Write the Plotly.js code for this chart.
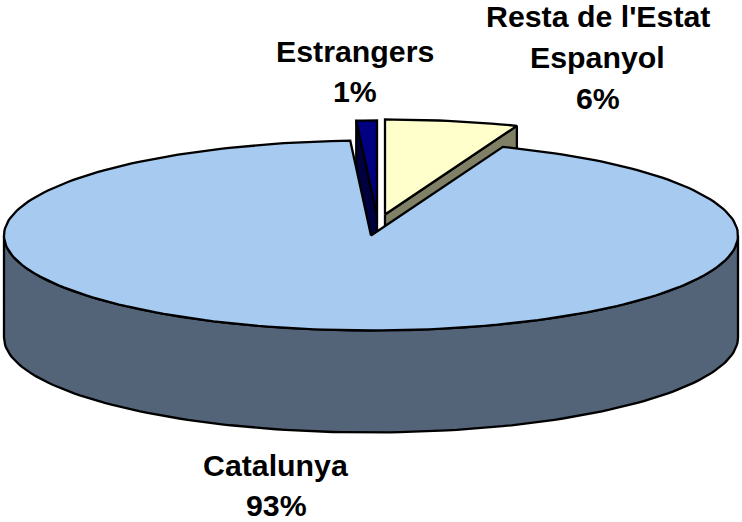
<!DOCTYPE html>
<html><head><meta charset="utf-8">
<script src="https://cdn.plot.ly/plotly-3.0.1.min.js"></script>
<style>html,body{margin:0;padding:0;background:#fff}</style></head>
<body><div id="chart" style="width:742px;height:522px"></div>
<script>
// Data (labels show rounded percentages)
var categories = ['Catalunya', 'Resta de l\'Estat Espanyol', 'Estrangers'];
var shares = [93.25, 5.85, 0.9];
var shownPercent = ['93%', '6%', '1%'];
var topColors = ['#A6CAF0', '#FFFFCC', '#000080'];
var sideColors = ['#536479', '#808066', '#000040'];

// Projection of the tilted disc onto the plot's data coordinates
var cx = 371, cy = 235.5, rx = 367, ry = 95, depth = 102;
var explode = {1: [14, -21], 2: [6, -20]};

function pt(apex, deg, drop) {
  var a = deg * Math.PI / 180;
  return [apex[0] + rx * Math.sin(a), apex[1] - ry * Math.cos(a) + (drop || 0)];
}
function arc(apex, a0, a1, drop) {
  var out = [], n = Math.max(2, Math.ceil(Math.abs(a1 - a0) / 1.5));
  for (var i = 0; i <= n; i++) out.push(pt(apex, a0 + (a1 - a0) * i / n, drop));
  return out;
}
function poly(points, fill, name) {
  var closed = points.concat([points[0]]);
  return {
    type: 'scatter', mode: 'lines', name: name, hoverinfo: 'skip', showlegend: false,
    x: closed.map(function (p) { return p[0]; }),
    y: closed.map(function (p) { return p[1]; }),
    fill: 'toself', fillcolor: fill,
    line: {color: '#000', width: 2.3}
  };
}

var total = shares.reduce(function (a, b) { return a + b; }, 0);
var restaEnd = shares[1] / total * 360;
var estrStart = -shares[2] / total * 360;
var centre = [cx, cy];
var apexR = [cx + explode[1][0], cy + explode[1][1]];
var apexE = [cx + explode[2][0], cy + explode[2][1]];

var traces = [];
// Estrangers: side then top
var eL = pt(apexE, estrStart, 0);
traces.push(poly([apexE, eL, [eL[0], eL[1] + depth], [apexE[0], apexE[1] + depth]], sideColors[2], categories[2] + ' side'));
traces.push(poly([apexE].concat(arc(apexE, estrStart, 0)), topColors[2], categories[2]));
// Resta: side then top
var rR = pt(apexR, restaEnd, 0);
traces.push(poly([apexR, rR, [rR[0], rR[1] + depth], [apexR[0], apexR[1] + depth]], sideColors[1], categories[1] + ' side'));
traces.push(poly([apexR].concat(arc(apexR, 0, restaEnd)), topColors[1], categories[1]));
// Catalunya: outer wall then top
traces.push(poly(arc(centre, 90, 270, 0).concat(arc(centre, 270, 90, depth)), sideColors[0], categories[0] + ' side'));
traces.push(poly([centre].concat(arc(centre, restaEnd, 360 + estrStart)), topColors[0], categories[0]));

var labelLines = [
  {t: 'Catalunya', x: 276, y: 465.5},
  {t: shownPercent[0], x: 276, y: 505.5},
  {t: 'Resta de l\'Estat', x: 597.5, y: 16},
  {t: 'Espanyol', x: 597.5, y: 57.5},
  {t: shownPercent[1], x: 597.5, y: 98.5},
  {t: categories[2], x: 355, y: 51},
  {t: shownPercent[2], x: 355, y: 91.5}
];

Plotly.newPlot('chart', traces, {
  width: 742, height: 522,
  margin: {l: 0, r: 0, t: 0, b: 0},
  paper_bgcolor: '#fff', plot_bgcolor: '#fff',
  showlegend: false,
  xaxis: {range: [0, 742], visible: false, fixedrange: true},
  yaxis: {range: [522, 0], visible: false, fixedrange: true},
  font: {family: '"Liberation Sans", Arial, sans-serif'},
  annotations: labelLines.map(function (l) {
    return {text: '<b>' + l.t + '</b>', x: l.x, y: l.y, xref: 'x', yref: 'y', showarrow: false,
      xanchor: 'center', yanchor: 'middle',
      font: {family: '"Liberation Sans", Arial, sans-serif', size: 30.3, color: '#000'}};
  })
}, {displayModeBar: false, staticPlot: true});
</script></body></html>
